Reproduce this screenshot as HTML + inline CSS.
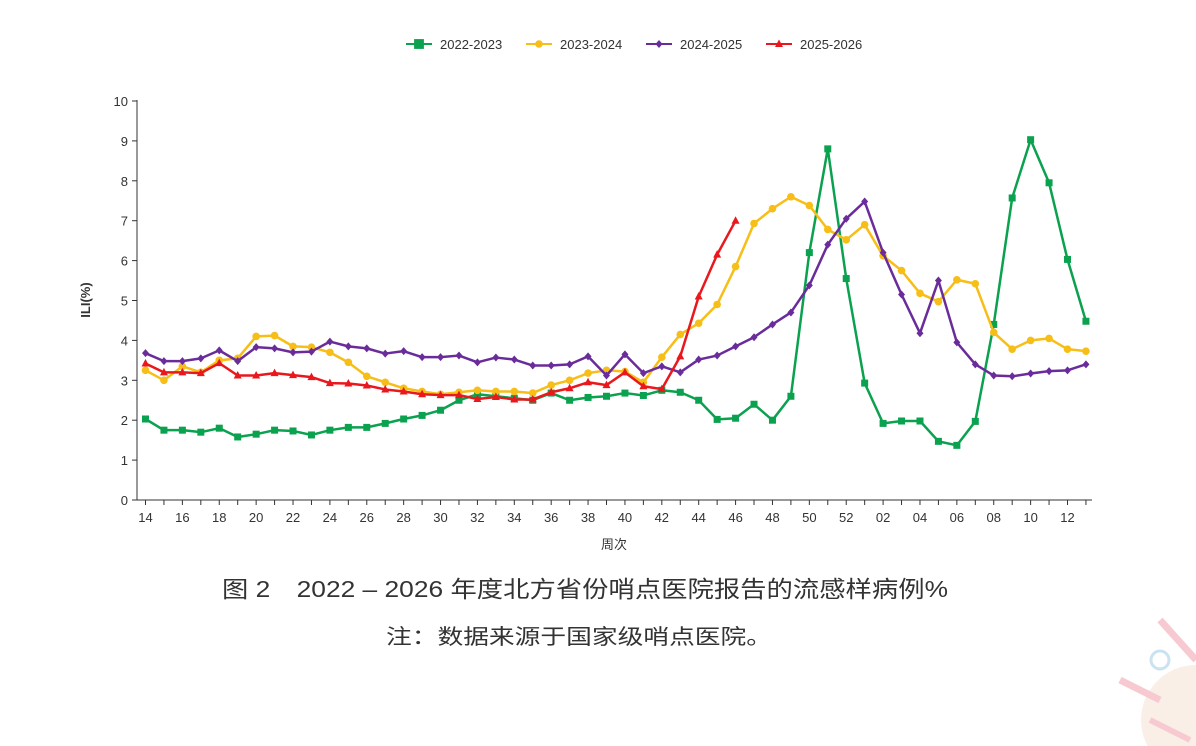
<!DOCTYPE html>
<html><head><meta charset="utf-8"><style>
body{margin:0;background:#fff;width:1196px;height:746px;overflow:hidden;font-family:"Liberation Sans","Noto Sans CJK SC",sans-serif}
</style></head><body>
<svg id="c" width="1196" height="746" style="position:absolute;left:0;top:0"></svg>
<script>
const weeks=["14","15","16","17","18","19","20","21","22","23","24","25","26","27","28","29","30","31","32","33","34","35","36","37","38","39","40","41","42","43","44","45","46","47","48","49","50","51","52","01","02","03","04","05","06","07","08","09","10","11","12","13"];
const s2223=[2.03,1.75,1.75,1.7,1.8,1.58,1.65,1.75,1.73,1.63,1.75,1.82,1.82,1.92,2.03,2.12,2.25,2.5,2.65,2.6,2.55,2.5,2.68,2.5,2.57,2.6,2.68,2.62,2.75,2.7,2.5,2.02,2.05,2.4,2.0,2.6,6.2,8.8,5.55,2.93,1.92,1.98,1.98,1.47,1.37,1.97,4.4,7.57,9.03,7.95,6.03,4.48];
const s2324=[3.25,3.0,3.35,3.2,3.5,3.55,4.1,4.12,3.85,3.83,3.7,3.45,3.1,2.95,2.8,2.72,2.65,2.7,2.75,2.72,2.72,2.68,2.88,3.0,3.18,3.25,3.22,2.95,3.58,4.15,4.43,4.9,5.85,6.93,7.3,7.6,7.38,6.78,6.52,6.9,6.12,5.75,5.18,4.97,5.52,5.42,4.2,3.78,4.0,4.05,3.78,3.73];
const s2425=[3.68,3.48,3.48,3.55,3.75,3.48,3.83,3.8,3.7,3.72,3.97,3.85,3.8,3.67,3.73,3.58,3.58,3.62,3.45,3.57,3.52,3.37,3.37,3.4,3.6,3.12,3.65,3.18,3.35,3.2,3.52,3.62,3.85,4.08,4.4,4.7,5.38,6.4,7.05,7.48,6.2,5.15,4.18,5.5,3.95,3.4,3.12,3.1,3.17,3.23,3.25,3.4];
const s2526=[3.42,3.2,3.2,3.18,3.43,3.12,3.12,3.18,3.13,3.08,2.93,2.92,2.87,2.77,2.72,2.65,2.63,2.63,2.53,2.58,2.52,2.52,2.7,2.8,2.95,2.88,3.2,2.85,2.78,3.6,5.1,6.15,7.0];
const yTicks=[0,1,2,3,4,5,6,7,8,9,10];
const NS="http://www.w3.org/2000/svg",svg=document.getElementById('c');
const X=i=>145.5+i*18.44, Y=v=>500-v*39.9;
function mk(t,a,p){const e=document.createElementNS(NS,t);for(const k in a)e.setAttribute(k,a[k]);(p||svg).appendChild(e);return e;}
let ax=mk('line',{x1:137,y1:500,x2:1092,y2:500,stroke:'#333','stroke-width':1});


let ay=mk('line',{x1:137,y1:100,x2:137,y2:500,stroke:'#333','stroke-width':1});


yTicks.forEach(v=>{mk('line',{x1:132,x2:137,y1:Y(v),y2:Y(v),stroke:'#333'});
 const t=mk('text',{x:128,y:Y(v)+5,'text-anchor':'end','font-size':13,fill:'#333'});t.textContent=v;
 
 });
weeks.forEach((w,i)=>{mk('line',{x1:X(i),x2:X(i),y1:500,y2:505,stroke:'#333'});
 if(i%2==0){const t=mk('text',{x:X(i),y:522,'text-anchor':'middle','font-size':13,fill:'#333'});t.textContent=w;
 
 }});
let xt=mk('text',{x:614,y:549,'text-anchor':'middle','font-size':13,fill:'#333'});xt.textContent='周次';


let yt=mk('text',{x:90,y:300,'text-anchor':'middle','font-size':13,'font-weight':'bold',fill:'#333',transform:'rotate(-90 90 300)'});yt.textContent='ILI(%)';


function marker(type,x,y,c,g){
 if(type=='sq')return mk('rect',{x:x-3.5,y:y-3.5,width:7,height:7,fill:c},g);
 if(type=='ci')return mk('circle',{cx:x,cy:y,r:3.8,fill:c},g);
 if(type=='di')return mk('path',{d:`M${x} ${y-4}L${x+3.5} ${y}L${x} ${y+4}L${x-3.5} ${y}Z`,fill:c},g);
 return mk('path',{d:`M${x} ${y-4.5}L${x+4} ${y+3}L${x-4} ${y+3}Z`,fill:c},g);}
const series=[[s2223,'#0aa14f','sq','2022-2023'],[s2324,'#f7be17','ci','2023-2024'],[s2425,'#6a2c9a','di','2024-2025'],[s2526,'#e9181d','tr','2025-2026']];
series.forEach(([d,c,m,n],k)=>{
 const g=mk('g',{});
 
 
 mk('polyline',{points:d.map((v,i)=>X(i)+','+Y(v)).join(' '),fill:'none',stroke:c,'stroke-width':2.5,'stroke-linejoin':'round'},g);
 d.forEach((v,i)=>marker(m,X(i),Y(v),c,g));
 const lx=[410,530,650,770][k];
 const lg=mk('g',{});
 
 
 mk('line',{x1:lx-4,x2:lx+22,y1:44,y2:44,stroke:c,'stroke-width':2},lg);
 marker(m,lx+9,44,c,lg).setAttribute('transform',m=='sq'?`translate(${-(lx+9)*0.4},${-44*0.4}) scale(1.4)`:'');
 const t=mk('text',{x:lx+30,y:49,'font-size':13,fill:'#333'},lg);t.textContent=n;
});
let ti=mk('text',{x:222,y:597,'font-size':23,fill:'#333',textLength:726,lengthAdjust:'spacingAndGlyphs'});ti.textContent='图 2　2022 – 2026 年度北方省份哨点医院报告的流感样病例%';


let no=mk('text',{x:386,y:644,'font-size':21,fill:'#333',textLength:386,lengthAdjust:'spacingAndGlyphs'});no.textContent='注：数据来源于国家级哨点医院。';


const dg=mk('g',{opacity:0.6});


mk('circle',{cx:1196,cy:720,r:55,fill:'#f6e6d8'},dg);
mk('line',{x1:1160,y1:620,x2:1196,y2:660,stroke:'#f3a7b5','stroke-width':7},dg);
mk('line',{x1:1120,y1:680,x2:1160,y2:700,stroke:'#f3a7b5','stroke-width':7},dg);
mk('circle',{cx:1160,cy:660,r:9,fill:'none',stroke:'#a9cfe8','stroke-width':3},dg);
mk('line',{x1:1150,y1:720,x2:1190,y2:740,stroke:'#f3a7b5','stroke-width':6},dg);
</script>
</body></html>
